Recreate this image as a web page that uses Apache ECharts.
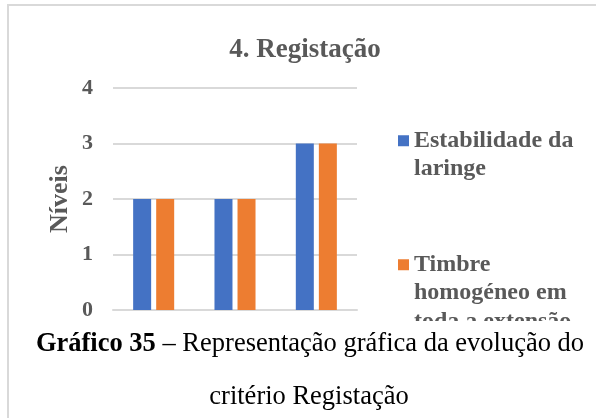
<!DOCTYPE html>
<html>
<head>
<meta charset="utf-8">
<script src="https://cdn.jsdelivr.net/npm/echarts@6/dist/echarts.min.js"></script>
<style>
  html, body { margin: 0; padding: 0; background: #fff; }
  #chart { width: 596px; height: 418px; }
</style>
</head>
<body>
<div id="chart"></div>
<script>
// dados do gráfico
const categorias = ['Sessão 1', 'Sessão 2', 'Sessão 3']
const estabilidade = [2, 2, 3]
const timbre = [2, 2, 3]
const nomesSeries = ['Estabilidade da laringe', 'Timbre homogéneo em toda a extensão']
// linhas vazias no início para o quadrado ficar ao lado da 1.ª linha
const legendaQuebrada = ['\nEstabilidade da\nlaringe', '\n\nTimbre\nhomogéneo em\ntoda a extensão']
const niveis = [0, 1, 2, 3, 4]

const serif = '"Liberation Serif", "Times New Roman", serif'
const cinza = '#595959'

const myChart = echarts.init(document.getElementById('chart'))

myChart.setOption({
  animation: false,
  title: {
    text: '4. Registação',
    left: 300,
    textAlign: 'center',
    top: 32,
    textStyle: { fontFamily: serif, fontSize: 27, fontWeight: 'bold', color: cinza }
  },
  legend: {
    orient: 'vertical',
    left: 398,
    top: 98,
    padding: 0,
    itemGap: 10,
    icon: 'rect',
    itemWidth: 11,
    itemHeight: 11,
    selectedMode: false,
    data: nomesSeries,
    formatter: name => legendaQuebrada[nomesSeries.indexOf(name)],
    textStyle: {
      fontFamily: serif,
      fontSize: 24,
      fontWeight: 'bold',
      color: cinza,
      lineHeight: 28.5
    }
  },
  grid: { left: 113, right: 239, top: 88, bottom: 108, containLabel: false },
  xAxis: {
    type: 'category',
    data: categorias,
    axisLine: { lineStyle: { color: '#d9d9d9', width: 2 } },
    axisTick: { show: false },
    axisLabel: { show: false }
  },
  yAxis: {
    type: 'value',
    min: niveis[0],
    max: niveis[niveis.length - 1],
    interval: 1,
    name: 'Níveis',
    nameLocation: 'middle',
    nameGap: 40,
    nameTextStyle: { fontFamily: serif, fontSize: 26, fontWeight: 'bold', color: cinza },
    axisLine: { show: false },
    axisTick: { show: false },
    axisLabel: { fontFamily: serif, fontSize: 22, fontWeight: 'bold', color: cinza, margin: 20 },
    splitLine: { lineStyle: { color: '#d9d9d9', width: 2 } }
  },
  series: [
    { name: nomesSeries[0], type: 'bar', data: estabilidade, barWidth: 18, barGap: '28%', itemStyle: { color: '#4472C4' } },
    { name: nomesSeries[1], type: 'bar', data: timbre, barWidth: 18, barGap: '28%', itemStyle: { color: '#ED7D31' } }
  ],
  graphic: [
    {
      type: 'rect', z: 100,
      shape: { x: 9, y: 321, width: 600, height: 110 },
      style: { fill: '#fff' }
    },
    {
      type: 'text', z: 101,
      style: {
        x: 310, y: 344, align: 'center', verticalAlign: 'middle',
        text: '{b|Gráfico 35} – Representação gráfica da evolução do',
        fontFamily: serif, fontSize: 26.5, fill: '#000',
        rich: { b: { fontFamily: serif, fontSize: 26.5, fontWeight: 'bold', fill: '#000' } }
      }
    },
    {
      type: 'text', z: 101,
      style: {
        x: 309, y: 397, align: 'center', verticalAlign: 'middle',
        text: 'critério Registação',
        fontFamily: serif, fontSize: 26.5, fill: '#000'
      }
    },
    {
      type: 'polyline', z: 102,
      shape: { points: [[8, 420], [8, 5], [600, 5]] },
      style: { stroke: '#d9d9d9', lineWidth: 2, fill: null }
    }
  ]
})
</script>
</body>
</html>
